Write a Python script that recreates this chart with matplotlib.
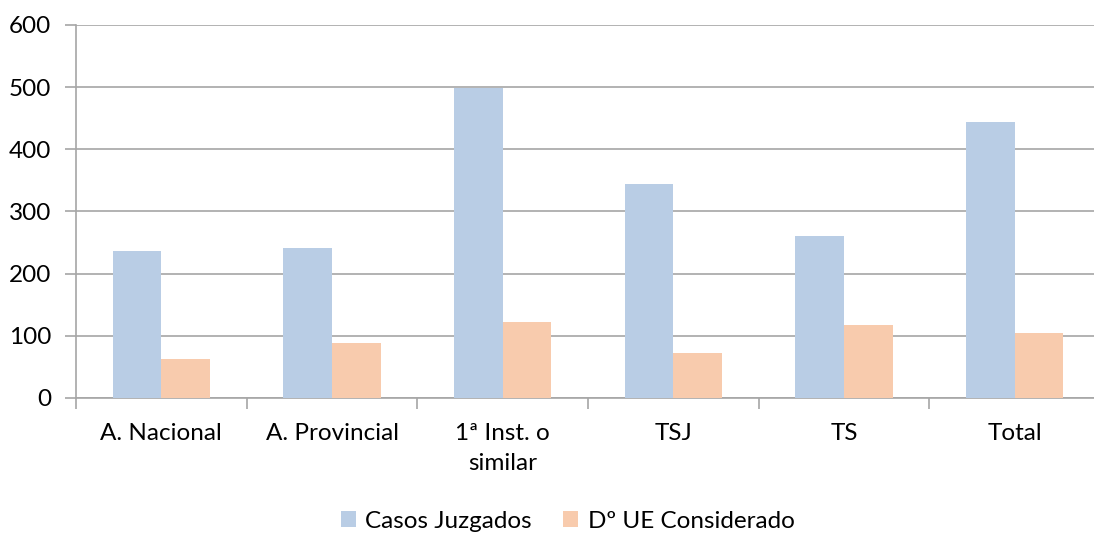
import numpy as np
import matplotlib.pyplot as plt

# --- Data ---
categories = ["A. Nacional", "A. Provincial", "1ª Inst. o\nsimilar", "TSJ", "TS", "Total"]
casos_juzgados = [237, 241, 498, 345, 260, 444]
ue_considerado = [63, 88, 123, 72, 118, 104]
series_names = ["Casos Juzgados", "Dº UE Considerado"]
y_ticks = [0, 100, 200, 300, 400, 500, 600]

BLUE = "#B9CDE5"
ORANGE = "#F8CBAD"
GRID = "#A6A6A6"
FS = 17.5

plt.rcParams['font.family'] = ['Lato', 'DejaVu Sans']

fig = plt.figure(figsize=(10.94, 5.36), dpi=100)
ax = fig.add_axes([76 / 1094, 138 / 536, 1024 / 1094, 373 / 536])

x = np.arange(len(categories))
w = 0.286
ax.bar(x - w / 2, casos_juzgados, w, color=BLUE, label=series_names[0], zorder=3)
ax.bar(x + w / 2, ue_considerado, w, color=ORANGE, label=series_names[1], zorder=3)

ax.set_xlim(-0.5, len(categories) - 0.5)
ax.set_ylim(0, 600)
ax.set_yticks(y_ticks)
ax.set_yticklabels([str(v) for v in y_ticks], fontsize=FS)
ax.yaxis.grid(True, color=GRID, linewidth=1.2, zorder=0)

# category labels centred, tick marks on the boundaries
ax.set_xticks(x)
ax.set_xticklabels(categories, fontsize=FS, linespacing=1.55)
ax.tick_params(axis='x', length=0, pad=18)
ax.set_xticks(np.arange(-0.5, len(categories) + 0.5, 1), minor=True)
ax.tick_params(axis='x', which='minor', length=8, color=GRID, width=1.2)
ax.tick_params(axis='y', length=8, color=GRID, width=1.2, pad=10)

for side in ['top', 'right']:
    ax.spines[side].set_visible(False)
for side in ['left', 'bottom']:
    ax.spines[side].set_color(GRID)
    ax.spines[side].set_linewidth(1.2)

fig.legend(loc='center', bbox_to_anchor=(0.519, 1 - 521 / 536), ncol=2, frameon=False,
           fontsize=FS, handlelength=0.6, handleheight=0.6, handletextpad=0.4,
           columnspacing=1.3)

fig.savefig("out.png", dpi=100)
